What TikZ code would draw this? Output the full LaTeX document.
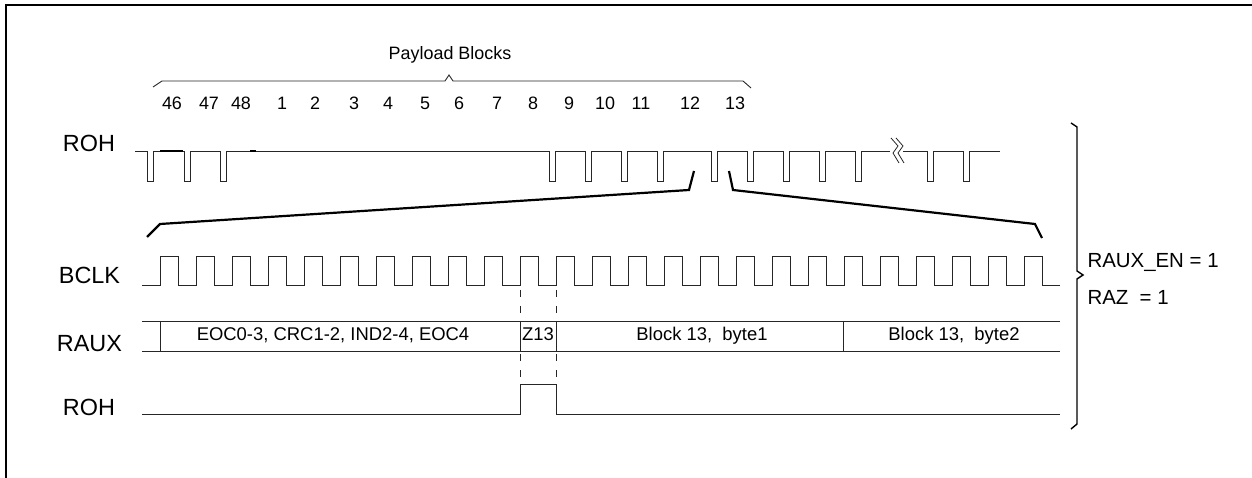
\documentclass[tikz,border=0pt]{standalone}
\usepackage{fontspec}
\setmainfont{Liberation Sans}
\usetikzlibrary{arrows.meta}

\begin{document}
\begin{tikzpicture}[x=1bp,y=-1bp,
  sig/.style={black!85,line width=.9bp},
  zoomline/.style={black,line width=2.2bp,line join=miter},
  signame/.style={font=\fontsize{23.5}{27}\selectfont,anchor=base},
  blknum/.style={font=\fontsize{18}{21}\selectfont,anchor=base},
  celltext/.style={font=\fontsize{18.5}{22}\selectfont,anchor=base},
  regtext/.style={font=\fontsize{20.5}{24}\selectfont,anchor=base west}]
 \useasboundingbox (0,0) rectangle (1252,478);
 % frame
 \draw[line width=2.5bp] (6,478) -- (6,5) -- (1252,5);
 % payload brace and block numbers
 \node[blknum] (payload) at (450,60) {Payload Blocks};
 \draw[sig] (153,87) -- (162,81) -- (445,81) -- (449,75) -- (453,81) -- (743,81) -- (751,88);
 \foreach \x/\t/\n in {172/46/a,209/47/b,241/48/c,282/1/d,315/2/e,354/3/f,388/4/g,
   425/5/h,459/6/i,497/7/j,533/8/k,569/9/l,605/10/m,641/11/n,690/12/o,735/13/p} {
  \node[blknum] (blk\n) at (\x,110) {\t};
 }
 % ROH, block level
 \node[signame] (rohtop) at (89,152) {ROH};
 \draw[sig] (135,151)
  foreach \p in {147,184,220,549,585,621,657,711,747,783,819,855} {
   -- (\p,151) -- (\p,181) -- (\p+6.5,181) -- (\p+6.5,151) } -- (890,151);
 \draw[sig] (903,151)
  foreach \p in {927,963} {
   -- (\p,151) -- (\p,181) -- (\p+6.5,181) -- (\p+6.5,151) } -- (1000,151);
 \draw[line width=1.8bp] (160,151) -- (183,151);
 \draw[line width=1.8bp] (250,151) -- (256,151);
 % break mark
 \foreach \d in {0,5} {
  \draw[black!85,line width=.8bp] (891+\d,138) -- (898+\d,146) -- (893+\d,153) -- (899+\d,163);
 }
 % zoom lines
 \draw[zoomline] (147,237) -- (160,224) -- (689,190) -- (694,171);
 \draw[zoomline] (729,171) -- (733,190) -- (1035,224) -- (1042,238);
 % BCLK
 \node[signame] (bclk) at (89.5,284) {BCLK};
 \draw[sig] (142,285)
  foreach \k in {0,...,24} {
   -- ({160+36*\k},285) -- ({160+36*\k},256) -- ({178+36*\k},256) -- ({178+36*\k},285) } -- (1060,285);
 % Z13 markers
 \foreach \x in {520,556} {
  \draw[sig,dash pattern=on 7bp off 9bp] (\x,290) -- (\x,380);
 }
 % RAUX
 \node[signame] (raux) at (89.5,352) {RAUX};
 \draw[sig] (142,321) -- (1060,321);
 \draw[sig] (142,351) -- (1060,351);
 \foreach \x in {160,520,556,843} {
  \draw[sig] (\x,321) -- (\x,351);
 }
 \node[celltext] (eoc) at (333,341) {EOC0-3, CRC1-2, IND2-4, EOC4};
 \node[celltext] (z13) at (538,341) {Z13};
 \node[celltext] (byte1) at (702,341) {Block 13,\ \ byte1};
 \node[celltext] (byte2) at (954,341) {Block 13,\ \ byte2};
 % ROH, bit level
 \node[signame] (rohbot) at (89,415) {ROH};
 \draw[sig] (142,414) -- (520,414) -- (520,384) -- (556,384) -- (556,414) -- (1060,414);
 % right brace
 \draw[black,line width=1.4bp] (1071,123) -- (1077,127) -- (1077,271) -- (1083,275)
   -- (1077,279) -- (1077,424) -- (1071,429);
 \node[regtext] (rauxen) at (1084,268) {RAUX\_EN = 1};
 \node[regtext] (raz) at (1084,305) {RAZ\ \ = 1};
\end{tikzpicture}
\end{document}
